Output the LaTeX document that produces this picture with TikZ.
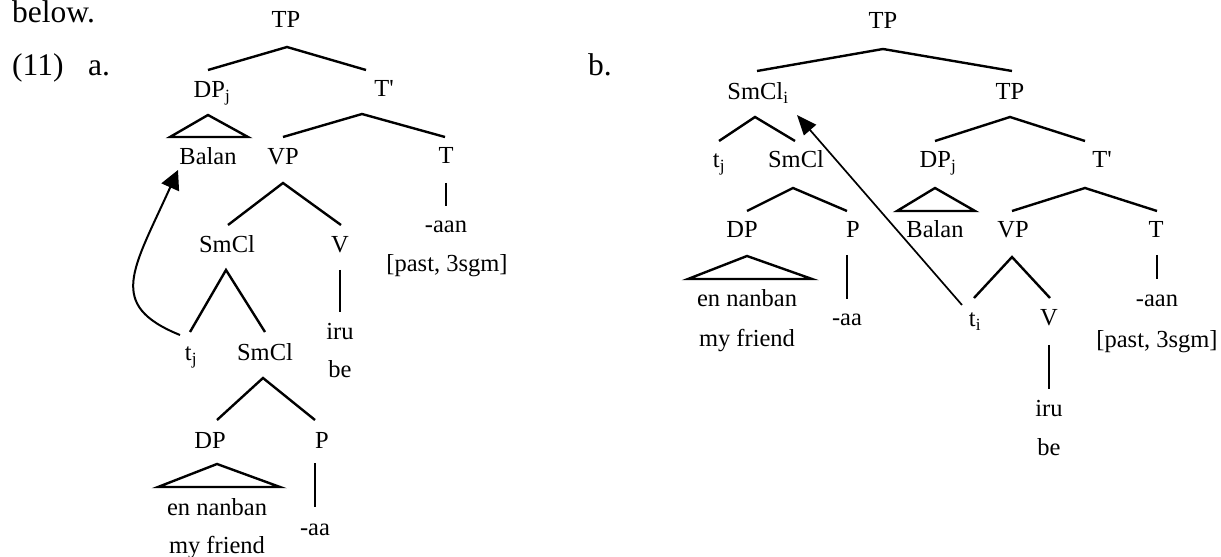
\documentclass[tikz,border=0pt]{standalone}
\usepackage{fontspec}
\setmainfont{Liberation Serif}[Ligatures=TeXOff]
\usetikzlibrary{arrows.meta}
\begin{document}
\begin{tikzpicture}[x=1bp,y=-1bp,
  lbl/.style={anchor=base, inner sep=0pt, font=\fontsize{24.5bp}{29bp}\selectfont},
  big/.style={anchor=base west, inner sep=0pt, font=\fontsize{31.5bp}{36bp}\selectfont},
  branch/.style={line width=2.4bp, line join=miter},
  mvcurve/.style={line width=2bp, -{Triangle[length=19bp,width=19bp]}},
  mvline/.style={line width=1.7bp, -{Triangle[length=20bp,width=16bp]}}]
\useasboundingbox (0,0) rectangle (1221,557);

% running text
\node[big] (below) at (12,23) {below.};
\node[big] (exnum) at (12,76) {(11)};
\node[big] (exa) at (88,76) {a.};
\node[big] (exb) at (588,76) {b.};

% ---------- tree (a) ----------
\node[lbl] (aTP) at (286,28) {TP};
\node[lbl] (aDPj) at (212,98) {DP\textsubscript{j}};
\node[lbl] (aTb) at (384,97) {T'};
\node[lbl] (aBalan) at (208,165) {Balan};
\node[lbl] (aVP) at (283,165) {VP};
\node[lbl] (aT) at (446,164) {T};
\node[lbl] (aaan) at (446,233) {-aan};
\node[lbl] (apast) at (447,272) {[past, 3sgm]};
\node[lbl] (aSmCl) at (227,253) {SmCl};
\node[lbl] (aV) at (340,253) {V};
\node[lbl] (airu) at (340,340) {iru};
\node[lbl] (abe) at (340,378) {be};
\node[lbl] (atj) at (191,361) {t\textsubscript{j}};
\node[lbl] (aSmClb) at (265,361) {SmCl};
\node[lbl] (aDP) at (210,448) {DP};
\node[lbl] (aP) at (322,448) {P};
\node[lbl] (anan) at (217,515) {en nanban};
\node[lbl] (afr) at (217,553) {my friend};
\node[lbl] (aaa) at (315,535) {-aa};

\coordinate (aTPx) at (287,47); \coordinate (aTPl) at (208,70); \coordinate (aTPr) at (366,70);
\coordinate (aDPjx) at (208,115); \coordinate (aDPjl) at (170,137); \coordinate (aDPjr) at (248,137);
\coordinate (aTbx) at (362,114); \coordinate (aTbl) at (283,137); \coordinate (aTbr) at (445,137);
\coordinate (aTt) at (446,183); \coordinate (aTd) at (446,206);
\coordinate (aVPx) at (283,183); \coordinate (aVPl) at (228,225); \coordinate (aVPr) at (341,225);
\coordinate (aSCx) at (226,270); \coordinate (aSCl) at (190,332); \coordinate (aSCr) at (265,332);
\coordinate (aVt) at (340,270); \coordinate (aVd) at (340,312);
\coordinate (aSBx) at (263,378); \coordinate (aSBl) at (217,420); \coordinate (aSBr) at (315,420);
\coordinate (aDPx) at (217,464); \coordinate (aDPl) at (158,487); \coordinate (aDPr) at (280,487);
\coordinate (aPt) at (315,463); \coordinate (aPd) at (315,507);
\coordinate (amvS) at (180,335); \coordinate (amvE) at (178,170);

\draw[branch] (aTPl) -- (aTPx) -- (aTPr);
\draw[branch] (aDPjx) -- (aDPjl) -- (aDPjr) -- cycle;
\draw[branch] (aTbl) -- (aTbx) -- (aTbr);
\draw[branch] (aTt) -- (aTd);
\draw[branch] (aVPl) -- (aVPx) -- (aVPr);
\draw[branch] (aSCl) -- (aSCx) -- (aSCr);
\draw[branch] (aVt) -- (aVd);
\draw[branch] (aSBl) -- (aSBx) -- (aSBr);
\draw[branch] (aDPx) -- (aDPl) -- (aDPr) -- cycle;
\draw[branch] (aPt) -- (aPd);
\draw[mvcurve] (amvS) .. controls (106,305) and (133,270) .. (amvE);

% ---------- tree (b) ----------
\node[lbl] (bTP) at (883,29) {TP};
\node[lbl] (bSmCli) at (758,100) {SmCl\textsubscript{i}};
\node[lbl] (bTP2) at (1010,100) {TP};
\node[lbl] (btj) at (719,168) {t\textsubscript{j}};
\node[lbl] (bSmCl) at (796,168) {SmCl};
\node[lbl] (bDPj) at (938,168) {DP\textsubscript{j}};
\node[lbl] (bTb) at (1102,168) {T'};
\node[lbl] (bDP) at (742,238) {DP};
\node[lbl] (bP) at (853,238) {P};
\node[lbl] (bBalan) at (935,238) {Balan};
\node[lbl] (bVP) at (1013,238) {VP};
\node[lbl] (bT) at (1156,238) {T};
\node[lbl] (bnan) at (747,307) {en nanban};
\node[lbl] (bfr) at (747,347) {my friend};
\node[lbl] (baa) at (847,326) {-aa};
\node[lbl] (bti) at (975,327) {t\textsubscript{i}};
\node[lbl] (bV) at (1049,326) {V};
\node[lbl] (baan) at (1157,307) {-aan};
\node[lbl] (bpast) at (1157,348) {[past, 3sgm]};
\node[lbl] (biru) at (1049,416) {iru};
\node[lbl] (bbe) at (1049,455) {be};

\coordinate (bTPx) at (883,49); \coordinate (bTPl) at (757,71); \coordinate (bTPr) at (1012,71);
\coordinate (bSix) at (755,117); \coordinate (bSil) at (719,141); \coordinate (bSir) at (795,141);
\coordinate (bT2x) at (1010,117); \coordinate (bT2l) at (935,141); \coordinate (bT2r) at (1085,141);
\coordinate (bSCx) at (793,188); \coordinate (bSCl) at (747,211); \coordinate (bSCr) at (847,211);
\coordinate (bDjx) at (935,188); \coordinate (bDjl) at (897,211); \coordinate (bDjr) at (975,211);
\coordinate (bTbx) at (1085,188); \coordinate (bTbl) at (1012,211); \coordinate (bTbr) at (1157,211);
\coordinate (bDPx) at (747,256); \coordinate (bDPl) at (688,279); \coordinate (bDPr) at (812,279);
\coordinate (bPt) at (847,255); \coordinate (bPd) at (847,299);
\coordinate (bVPx) at (1012,257); \coordinate (bVPl) at (974,298); \coordinate (bVPr) at (1050,298);
\coordinate (bTt) at (1157,255); \coordinate (bTd) at (1157,279);
\coordinate (bVt) at (1049,345); \coordinate (bVd) at (1049,389);
\coordinate (bmvS) at (962,305); \coordinate (bmvE) at (797,115);

\draw[branch] (bTPl) -- (bTPx) -- (bTPr);
\draw[branch] (bSil) -- (bSix) -- (bSir);
\draw[branch] (bT2l) -- (bT2x) -- (bT2r);
\draw[branch] (bSCl) -- (bSCx) -- (bSCr);
\draw[branch] (bDjx) -- (bDjl) -- (bDjr) -- cycle;
\draw[branch] (bTbl) -- (bTbx) -- (bTbr);
\draw[branch] (bDPx) -- (bDPl) -- (bDPr) -- cycle;
\draw[branch] (bPt) -- (bPd);
\draw[branch] (bVPl) -- (bVPx) -- (bVPr);
\draw[branch] (bTt) -- (bTd);
\draw[branch] (bVt) -- (bVd);
\draw[mvline] (bmvS) -- (bmvE);
\end{tikzpicture}
\end{document}
